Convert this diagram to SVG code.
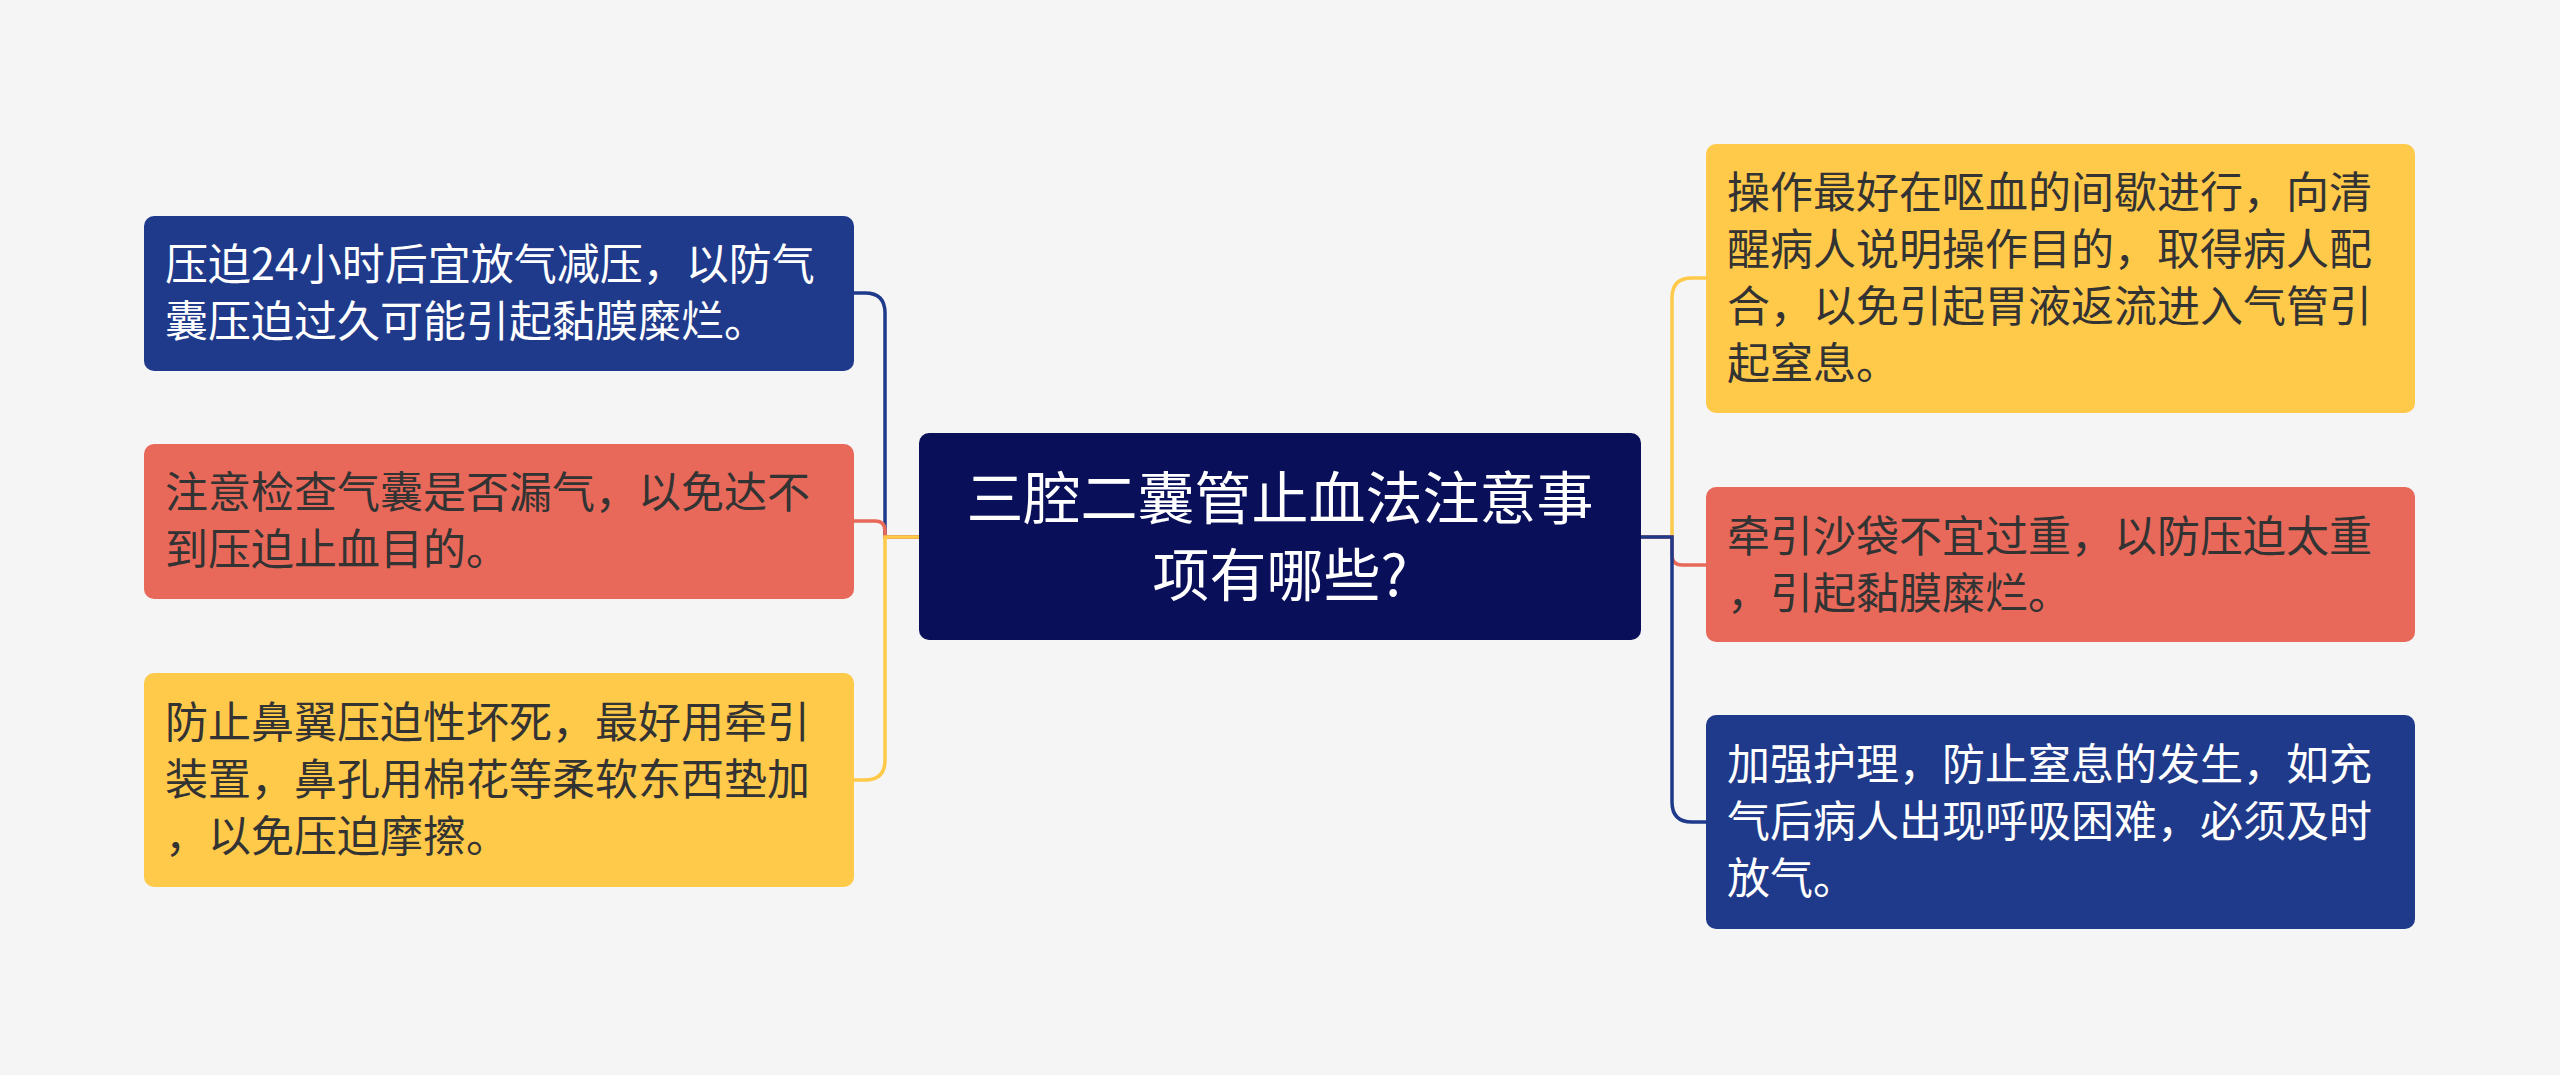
<svg xmlns="http://www.w3.org/2000/svg" width="2560" height="1075" viewBox="0 0 2560 1075">
<style>
.t{font-family:"Noto Sans CJK SC","Noto Sans",sans-serif;font-size:43px}
.w{fill:#ffffff}.d{fill:#333333}
.c{fill:none;stroke-width:3.5}
</style>
<rect width="2560" height="1075" fill="#f5f5f5"/>
<g id="connectors">
<path class="c" stroke="#1f3a8a" d="M919 537 H885 V313 Q885 293 865 293 H854"/>
<path class="c" stroke="#e8695a" d="M919 537 H885 V531 Q885 521 875 521 H854"/>
<path class="c" stroke="#ffc94a" d="M919 537 H885 V760 Q885 780 865 780 H854"/>
<path class="c" stroke="#ffc94a" d="M1641 537 H1672 V298 Q1672 278 1692 278 H1706"/>
<path class="c" stroke="#e8695a" d="M1641 537 H1672 V555 Q1672 565 1682 565 H1706"/>
<path class="c" stroke="#1f3a8a" d="M1641 537 H1672 V802 Q1672 822 1692 822 H1706"/>
</g>
<g id="center"><rect x="919" y="433" width="722" height="207" rx="10" fill="#0a0f5a"/>
<text class="w" font-family="Noto Sans CJK SC,sans-serif" font-size="57" text-anchor="middle"><tspan x="1280" y="519">三腔二囊管止血法注意事</tspan><tspan x="1280" y="596">项有哪些?</tspan></text></g>
<g id="l1"><rect x="144" y="216" width="710" height="155" rx="10" fill="#1f3a8a"/>
<text class="t w"><tspan x="165" y="280">压迫24小时后宜放气减压，以防气</tspan><tspan x="165" y="337">囊压迫过久可能引起黏膜糜烂。</tspan></text></g>
<g id="l2"><rect x="144" y="444" width="710" height="155" rx="10" fill="#e8695a"/>
<text class="t d"><tspan x="165" y="508">注意检查气囊是否漏气，以免达不</tspan><tspan x="165" y="565">到压迫止血目的。</tspan></text></g>
<g id="l3"><rect x="144" y="673" width="710" height="214" rx="10" fill="#ffc94a"/>
<text class="t d"><tspan x="165" y="738">防止鼻翼压迫性坏死，最好用牵引</tspan><tspan x="165" y="795">装置，鼻孔用棉花等柔软东西垫加</tspan><tspan x="165" y="852">，以免压迫摩擦。</tspan></text></g>
<g id="r1"><rect x="1706" y="144" width="709" height="269" rx="10" fill="#ffc94a"/>
<text class="t d"><tspan x="1727" y="208">操作最好在呕血的间歇进行，向清</tspan><tspan x="1727" y="265">醒病人说明操作目的，取得病人配</tspan><tspan x="1727" y="322">合，以免引起胃液返流进入气管引</tspan><tspan x="1727" y="379">起窒息。</tspan></text></g>
<g id="r2"><rect x="1706" y="487" width="709" height="155" rx="10" fill="#e8695a"/>
<text class="t d"><tspan x="1727" y="552">牵引沙袋不宜过重，以防压迫太重</tspan><tspan x="1727" y="609">，引起黏膜糜烂。</tspan></text></g>
<g id="r3"><rect x="1706" y="715" width="709" height="214" rx="10" fill="#1f3a8a"/>
<text class="t w"><tspan x="1727" y="780">加强护理，防止窒息的发生，如充</tspan><tspan x="1727" y="837">气后病人出现呼吸困难，必须及时</tspan><tspan x="1727" y="894">放气。</tspan></text></g>
</svg>
